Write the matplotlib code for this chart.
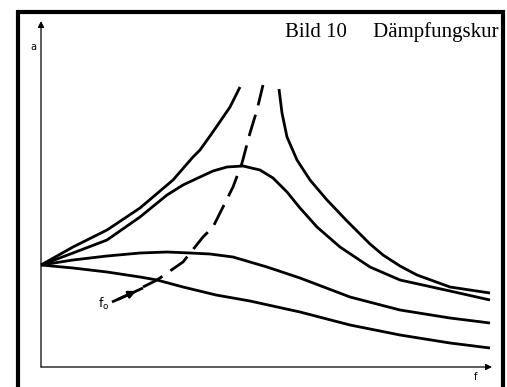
import matplotlib
matplotlib.use('Agg')
import matplotlib.pyplot as plt
from matplotlib.lines import Line2D

W, H = 507, 387

# data (f right, a up; origin at the axis corner)
f_res_left = [0, 32, 66, 99, 132, 152, 159, 169, 176, 189, 199]
a_res_left = [102, 120, 137, 159, 187, 210, 217, 231, 241, 260, 280]
f_res_right = [238, 241, 246, 256, 269, 286, 306, 329, 342, 359, 376, 409, 449]
a_res_right = [278, 254, 230, 207, 187, 167, 146, 123, 112, 101, 92, 80, 74]

f_peak = [0, 32, 66, 99, 126, 142, 159, 172, 186, 202, 219, 232, 246, 259, 276, 299, 329, 359, 409, 449]
a_peak = [102, 114, 127, 150, 172, 182, 190, 196, 200, 201, 197, 189, 175, 159, 140, 120, 100, 87, 76, 67]

f_flat = [0, 32, 66, 99, 126, 149, 169, 192, 226, 259, 309, 359, 409, 449]
a_flat = [102, 107, 111, 114, 115, 114, 113, 110, 100, 89, 70, 57, 49, 44]

f_low = [0, 32, 66, 99, 116, 142, 175, 209, 259, 309, 359, 409, 449]
a_low = [102, 99, 95, 90, 87, 80, 72, 66, 55, 42, 32, 24, 19]

f_f0 = [102, 116, 142, 162, 172, 182, 192, 201, 209, 216, 222]
a_f0 = [80, 87, 105, 130, 140, 160, 180, 204, 234, 257, 282]

title = 'Bild 10     Dämpfungskur'

fig = plt.figure(figsize=(W / 100, H / 100), dpi=100)

# outer frame + title
bg = fig.add_axes([0, 0, 1, 1])
bg.set_xlim(0, W)
bg.set_ylim(H, 0)
bg.axis('off')
bg.text(285, 37, title, family='Liberation Serif', fontsize=15, color='black', va='baseline', ha='left')
bg.add_line(Line2D([18, 18, 502.5, 502.5], [H + 5, 12, 12, H + 5], lw=3, color='black',
                   solid_joinstyle='miter', zorder=4))

ax = fig.add_axes([41 / W, 20 / H, 449 / W, 344 / H])
ax.set_xlim(0, 449)
ax.set_ylim(0, 344)
ax.axis('off')
ax.patch.set_alpha(0)

lw = 2.0
for fx, ay in [(f_res_left, a_res_left), (f_res_right, a_res_right), (f_peak, a_peak),
               (f_flat, a_flat), (f_low, a_low)]:
    ax.plot(fx, ay, color='black', lw=lw, solid_capstyle='butt', solid_joinstyle='round', clip_on=False)
ax.plot(f_f0, a_f0, color='black', lw=lw, dashes=(8, 3.5), clip_on=False)

# axes arrows
arrow = dict(arrowstyle='-|>', lw=0.9, color='black', mutation_scale=9, shrinkA=0, shrinkB=0)
ax.annotate('', xy=(0, 346), xytext=(0, 0), arrowprops=arrow, annotation_clip=False)
ax.annotate('', xy=(451, 0), xytext=(0, 0), arrowprops=arrow, annotation_clip=False)
ax.text(-8, 320, 'a', fontsize=7, ha='center', va='center')
ax.text(435, -10, 'f', fontsize=7, ha='center', va='center')

# f0 marker with arrow onto the dashed curve
ax.text(63, 63, r'$\mathregular{f_o}$', fontsize=9, ha='center', va='center')
ax.plot([71, 102], [65, 79], color='black', lw=lw, solid_capstyle='butt')
ax.annotate('', xy=(95, 76), xytext=(78, 68), annotation_clip=False,
            arrowprops=dict(arrowstyle='-|>', lw=lw, color='black', mutation_scale=10, shrinkA=0, shrinkB=0))

fig.savefig('out.png', dpi=100)
